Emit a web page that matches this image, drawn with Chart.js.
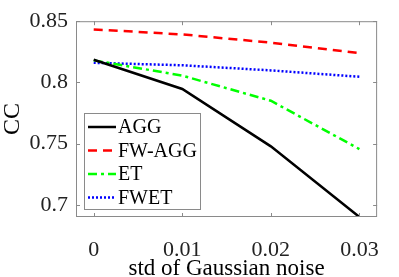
<!DOCTYPE html>
<html>
<head>
<meta charset="utf-8">
<script src="https://cdn.jsdelivr.net/npm/chart.js@4/dist/chart.umd.min.js"></script>
<style>
  html, body { margin: 0; padding: 0; background: #fff; }
  #wrap { width: 399px; height: 277px; }
</style>
</head>
<body>
<div id="wrap"><canvas id="cc-chart" width="399" height="277"></canvas></div>
<script>
// CC frente a la desviacion del ruido gaussiano
const noiseStd = [0, 0.01, 0.02, 0.03];
const xTickValues = [0, 0.01, 0.02, 0.03];
const yTickValues = [0.7, 0.75, 0.8, 0.85];

const seriesNames = ['AGG', 'FW-AGG', 'ET', 'FWET'];
const aggValues = [0.8185, 0.7946, 0.7477, 0.6900];
const fwAggValues = [0.8433, 0.8392, 0.8325, 0.8240];
const etValues = [0.8180, 0.8055, 0.7850, 0.7455];
const fwetValues = [0.8160, 0.8140, 0.8098, 0.8046];

const serif = "'Liberation Serif', 'Times New Roman', serif";

function toPoints(values) {
    return noiseStd.map((x, i) => ({ x: x, y: values[i] }));
}

// caja estilo matlab: borde y marcas hacia dentro, leyenda dentro del area
const boxAndLegend = {
    id: 'boxAndLegend',
    afterDraw(chart) {
        const { ctx, chartArea: { left, top, right, bottom }, scales: { x, y } } = chart;
        ctx.save();
        ctx.strokeStyle = '#8a8a8a';
        ctx.lineWidth = 1;
        ctx.setLineDash([]);
        ctx.strokeRect(left + 0.5, top + 0.5, right - left - 1, bottom - top - 1);
        const tl = 4;
        ctx.beginPath();
        xTickValues.forEach(v => {
            const px = Math.round(x.getPixelForValue(v)) + 0.5;
            ctx.moveTo(px, bottom); ctx.lineTo(px, bottom - tl);
            ctx.moveTo(px, top); ctx.lineTo(px, top + tl);
        });
        yTickValues.forEach(v => {
            const py = Math.round(y.getPixelForValue(v)) + 0.5;
            ctx.moveTo(left, py); ctx.lineTo(left + tl, py);
            ctx.moveTo(right, py); ctx.lineTo(right - tl, py);
        });
        ctx.stroke();

        // leyenda
        const lx = left + 8, ly = 113, lw = 116, lh = 96;
        ctx.fillStyle = '#fff';
        ctx.fillRect(lx, ly, lw, lh);
        ctx.strokeRect(lx + 0.5, ly + 0.5, lw, lh);
        ctx.font = '20px ' + serif;
        ctx.textBaseline = 'middle';
        ctx.textAlign = 'left';
        chart.data.datasets.forEach((ds, i) => {
            const rowY = ly + 14 + i * 23.5;
            ctx.strokeStyle = ds.borderColor;
            ctx.lineWidth = ds.borderWidth;
            ctx.setLineDash(ds.borderDash || []);
            ctx.beginPath();
            ctx.moveTo(lx + 4, rowY);
            ctx.lineTo(lx + 32, rowY);
            ctx.stroke();
            ctx.fillStyle = '#000';
            ctx.fillText(ds.label, lx + 34, rowY + 1);
        });
        ctx.restore();
    }
};

const chart = new Chart(document.getElementById('cc-chart'), {
    type: 'line',
    data: {
        datasets: [
            { label: seriesNames[0], data: toPoints(aggValues), borderColor: '#000000', borderWidth: 2.5, borderDash: [] },
            { label: seriesNames[1], data: toPoints(fwAggValues), borderColor: '#ff0000', borderWidth: 2.5, borderDash: [9, 6] },
            { label: seriesNames[2], data: toPoints(etValues), borderColor: '#00ff00', borderWidth: 2.5, borderDash: [9, 4, 3, 4] },
            { label: seriesNames[3], data: toPoints(fwetValues), borderColor: '#0000ff', borderWidth: 2.5, borderDash: [2, 2] }
        ]
    },
    options: {
        responsive: false,
        animation: false,
        events: [],
        layout: { padding: { top: 9, right: 6, left: 0, bottom: 0 } },
        elements: { point: { radius: 0 }, line: { tension: 0, fill: false } },
        plugins: { legend: { display: false }, tooltip: { enabled: false } },
        scales: {
            x: {
                type: 'linear',
                min: -0.002,
                max: 0.032,
                afterBuildTicks: s => { s.ticks = xTickValues.map(v => ({ value: v })); },
                afterFit: s => { s.height = 60; },
                grid: { display: false, drawTicks: false },
                border: { display: false },
                ticks: { padding: 20, color: '#222', font: { family: serif, size: 22 }, callback: v => String(v) },
                title: { display: true, text: 'std of Gaussian noise', color: '#000', font: { family: serif, size: 23 }, padding: { top: 0, bottom: -6 } }
            },
            y: {
                min: 0.69,
                max: 0.85,
                afterBuildTicks: s => { s.ticks = yTickValues.map(v => ({ value: v })); },
                afterFit: s => { s.width = 76; },
                grid: { display: false, drawTicks: false },
                border: { display: false },
                ticks: { padding: 8, color: '#222', font: { family: serif, size: 22 }, callback: v => String(v) },
                title: { display: true, text: 'CC', color: '#000', font: { family: serif, size: 24 }, padding: { top: -2, bottom: 0 } }
            }
        }
    },
    plugins: [boxAndLegend]
});
</script>
</body>
</html>
